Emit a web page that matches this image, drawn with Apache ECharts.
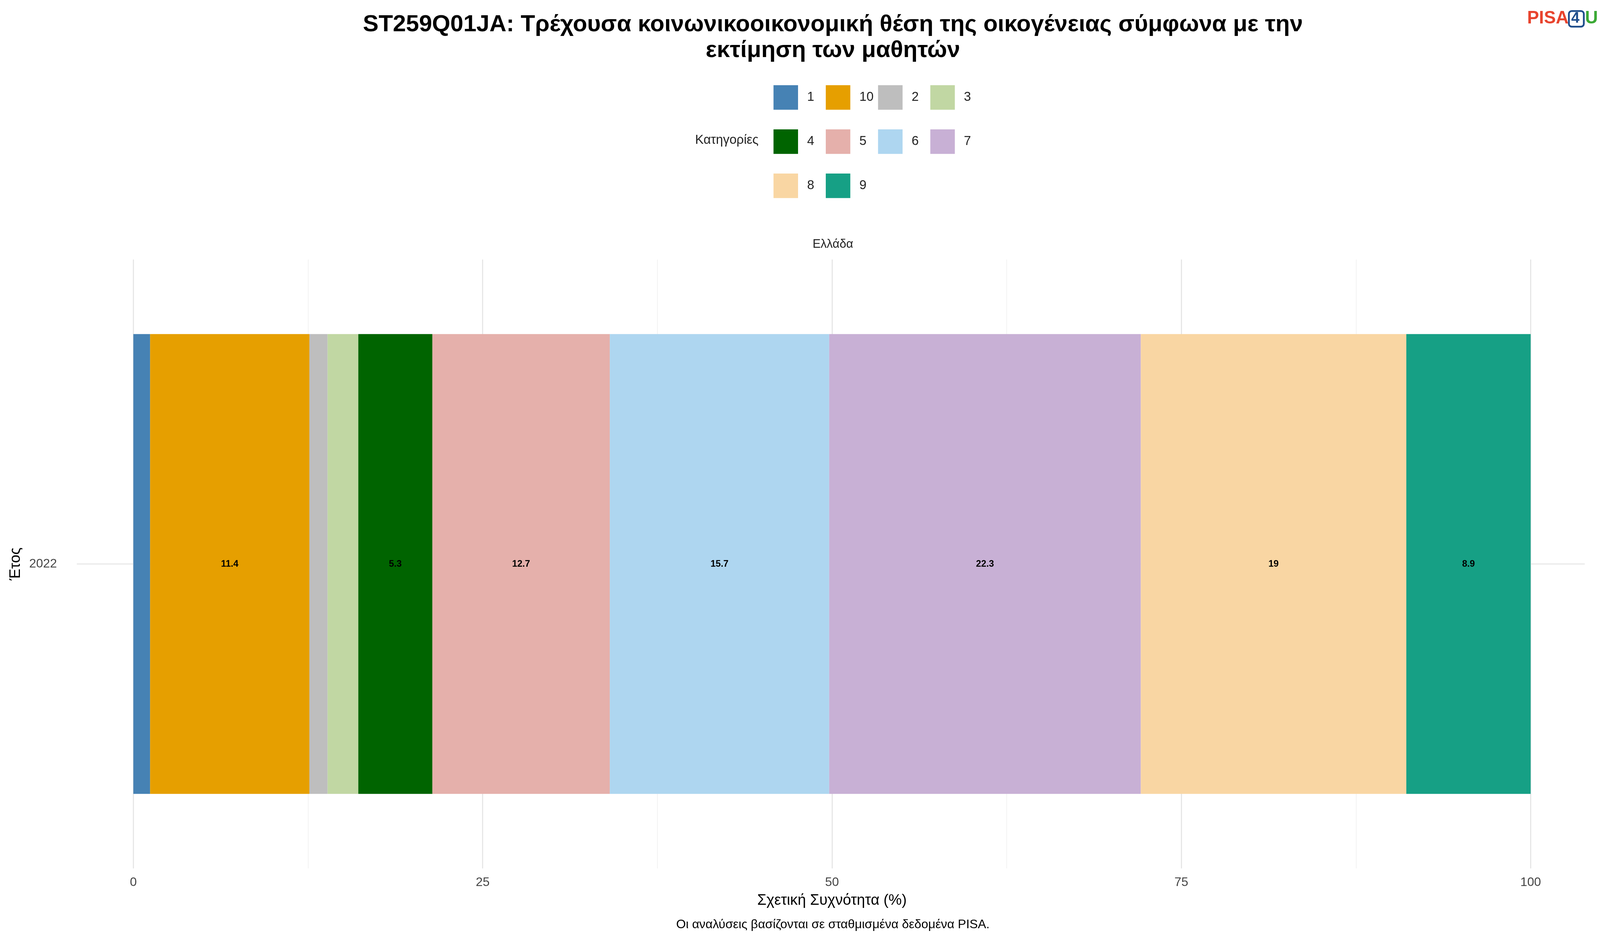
<!DOCTYPE html>
<html><head><meta charset="utf-8">
<script src="https://cdn.jsdelivr.net/npm/echarts@6/dist/echarts.min.js"></script>
<style>html,body{margin:0;padding:0;overflow:hidden}#c{width:100vw;height:100vh;background:#fff}</style>
</head><body><div id="c"></div>
<script>
const categories = ['2022'];
const seriesNames = ['1','10','2','3','4','5','6','7','8','9'];
const seriesValues = [1.2, 11.4, 1.3, 2.2, 5.3, 12.7, 15.7, 22.3, 19, 8.9];
const colors = ['#4682B4','#E69F00','#BEBEBE','#C1D7A3','#006400','#E5B0AB','#AED6F0','#C8B0D5','#F9D6A3','#16A085'];

const el = document.getElementById('c');
const chart = echarts.init(el);
const W = el.clientWidth, H = el.clientHeight;
const sx = W / 4500, sy = H / 2400, s = Math.min(sx, sy);
const series = seriesNames.map((n, i) => ({
  name: n, type: 'bar', stack: 'a', barWidth: '75.5%',
  itemStyle: {color: colors[i]},
  data: [seriesValues[i]],
  label: {show: seriesValues[i] > 5, position: 'inside', fontSize: 26 * s, fontWeight: 'bold', color: '#000',
    fontFamily: 'Liberation Sans', formatter: p => String(p.value)},
  z: 3
}));
const legends = seriesNames.map((n, i) => ({
  data: [n], left: (2170 + (i % 4) * 147) * sx, top: (213 + Math.floor(i / 4) * 113) * sy,
  itemWidth: 69 * s, itemHeight: 69 * s, icon: 'rect', selectedMode: false,
  textStyle: {fontSize: 36 * s, padding: [0, 0, 0, 20 * s], color: '#222', fontFamily: 'Liberation Sans'}
}));
const gTop = 664 * sy, gBottom = 178 * sy, gLeft = 375 * sx, gRight = 195 * sx;
const yMid = gTop + (H - gTop - gBottom) / 2;
chart.setOption({
  backgroundColor: '#fff',
  animation: false,
  title: [{
    text: 'ST259Q01JA: Τρέχουσα κοινωνικοοικονομική θέση της οικογένειας σύμφωνα με την\nεκτίμηση των μαθητών',
    left: 2337 * sx, textAlign: 'center', top: 26 * sy,
    textStyle: {fontSize: 66 * s, fontWeight: 'bold', color: '#000', lineHeight: 72 * s, fontFamily: 'Liberation Sans'}
  }, {
    text: 'Ελλάδα', left: 2337 * sx, textAlign: 'center', top: 605 * sy,
    textStyle: {fontSize: 34 * s, fontWeight: 'normal', color: '#222', fontFamily: 'Liberation Sans'}
  }, {
    text: 'Οι αναλύσεις βασίζονται σε σταθμισμένα δεδομένα PISA.', left: 2337 * sx, textAlign: 'center', top: 2345 * sy,
    textStyle: {fontSize: 35 * s, fontWeight: 'normal', color: '#000', fontFamily: 'Liberation Sans'}
  }],
  legend: legends,
  graphic: [
    {type: 'line', z: 0, shape: {x1: 216 * sx, y1: yMid, x2: W - 43 * sx, y2: yMid}, style: {stroke: '#E5E5E5', lineWidth: 3 * s}},
    {type: 'text', left: 1955 * sx, top: 342 * sy, style: {text: 'Κατηγορίες', fontSize: 36 * s, fill: '#222', fontFamily: 'Liberation Sans'}},
    {type: 'text', left: W - 205 * s, top: 24 * sy, style: {text: 'PISA', fontSize: 50 * s, fontWeight: 'bold', fill: '#E8442E', fontFamily: 'Liberation Sans'}},
    {type: 'rect', left: W - 90 * s, top: 26 * sy, shape: {width: 42 * s, height: 44 * s, r: 8 * s}, style: {fill: '#fff', stroke: '#1F4E8C', lineWidth: 5 * s}},
    {type: 'text', left: W - 81 * s, top: 28 * sy, style: {text: '4', fontSize: 42 * s, fontWeight: 'bold', fill: '#1F4E8C', fontFamily: 'Liberation Sans'}},
    {type: 'text', left: W - 42 * s, top: 24 * sy, style: {text: 'U', fontSize: 50 * s, fontWeight: 'bold', fill: '#3BA935', fontFamily: 'Liberation Sans'}}
  ],
  grid: {left: gLeft, right: gRight, top: gTop, bottom: gBottom, containLabel: false},
  xAxis: {
    type: 'value', min: 0, max: 100, interval: 25,
    name: 'Σχετική Συχνότητα (%)', nameLocation: 'middle', nameGap: 70 * s,
    nameTextStyle: {fontSize: 42 * s, color: '#000', fontFamily: 'Liberation Sans'},
    axisLine: {show: false}, axisTick: {show: false},
    splitLine: {show: true, lineStyle: {color: '#E5E5E5', width: 3 * s}},
    minorTick: {show: false, splitNumber: 2},
    minorSplitLine: {show: true, lineStyle: {color: '#F2F2F2', width: 2 * s}},
    axisLabel: {fontSize: 35 * s, color: '#444', margin: 22 * s, fontFamily: 'Liberation Sans'}
  },
  yAxis: {
    type: 'category', data: categories,
    name: 'Έτος', nameLocation: 'middle', nameGap: 310 * sx, nameRotate: 90,
    nameTextStyle: {fontSize: 42 * s, color: '#000', fontFamily: 'Liberation Sans'},
    axisLine: {show: false}, axisTick: {show: false}, splitLine: {show: false},
    axisLabel: {fontSize: 35 * s, color: '#444', margin: 215 * sx, fontFamily: 'Liberation Sans'}
  },
  series: series
});
</script></body></html>
